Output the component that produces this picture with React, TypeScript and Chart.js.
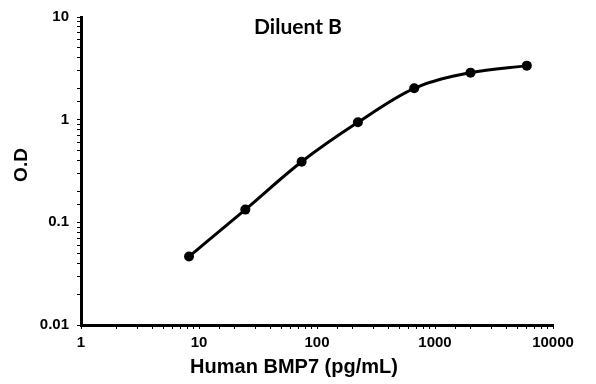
import React, { useEffect, useRef } from "react";
import { Chart, registerables } from "chart.js";

Chart.register(...registerables);

const concentrations = [8.23, 24.69, 74.07, 222.2, 666.7, 2000, 6000];
const odValues = [0.0464, 0.133, 0.389, 0.942, 2.02, 2.87, 3.36];
const chartTitle = "Diluent B";
const xTitle = "Human BMP7 (pg/mL)";
const yTitle = "O.D";
const xRange = [1, 10000];
const yRange = [0.01, 10];

const isPow10 = (v: number) => {
  const l = Math.log10(v);
  return Math.abs(l - Math.round(l)) < 1e-9;
};

const fmt = (v: number) => {
  const l = Math.round(Math.log10(v));
  return l < 0 ? v.toFixed(-l) : String(Math.round(v));
};

const titlesPlugin = {
  id: "customTitles",
  afterDraw(chart: any) {
    const ctx = chart.ctx;
    ctx.save();
    ctx.fillStyle = "#000";
    ctx.textAlign = "center";
    ctx.textBaseline = "alphabetic";
    ctx.font = "bold 21px Lato, 'Liberation Sans', sans-serif";
    ctx.fillText(chartTitle, 298, 34);
    ctx.font = "bold 20px 'Liberation Sans', Arial, sans-serif";
    ctx.fillText(xTitle, 294, 373);
    ctx.translate(27, 165);
    ctx.rotate(-Math.PI / 2);
    ctx.font = "bold 19px 'Liberation Sans', Arial, sans-serif";
    ctx.fillText(yTitle, 0, 0);
    ctx.restore();
  },
};

export default function App() {
  const ref = useRef<HTMLCanvasElement>(null);
  useEffect(() => {
    if (!ref.current) return;
    const tickFont = { family: "'Liberation Sans', Arial, sans-serif", size: 15, weight: "bold" as const };
    const chart = new Chart(ref.current, {
      type: "line",
      data: {
        datasets: [
          {
            data: concentrations.map((x, i) => ({ x, y: odValues[i] })),
            borderColor: "#000",
            backgroundColor: "#000",
            borderWidth: 3,
            pointRadius: 5,
            pointBorderWidth: 0,
            pointBackgroundColor: "#000",
            tension: 0.4,
            cubicInterpolationMode: "monotone",
            fill: false,
          },
        ],
      },
      options: {
        animation: false,
        responsive: false,
        layout: { padding: { left: 0, right: 43, top: 15, bottom: 0 } },
        plugins: { legend: { display: false }, tooltip: { enabled: false }, title: { display: false } },
        scales: {
          x: {
            type: "logarithmic",
            min: xRange[0],
            max: xRange[1],
            afterFit: (s: any) => {
              s.height = 59;
            },
            border: { display: true, color: "#000", width: 3 },
            grid: { drawOnChartArea: false, drawTicks: true, tickLength: 4, color: "#000", lineWidth: 1 },
            ticks: {
              autoSkip: false,
              maxRotation: 0,
              color: "#000",
              font: tickFont,
              padding: 5,
              callback: (v: any) => (isPow10(Number(v)) ? fmt(Number(v)) : ""),
            },
          },
          y: {
            type: "logarithmic",
            min: yRange[0],
            max: yRange[1],
            afterFit: (s: any) => {
              s.width = 81;
            },
            border: { display: true, color: "#000", width: 3 },
            grid: { drawOnChartArea: false, drawTicks: true, tickLength: 4, color: "#000", lineWidth: 1 },
            ticks: {
              autoSkip: false,
              color: "#000",
              font: tickFont,
              padding: 8,
              callback: (v: any) => (isPow10(Number(v)) ? fmt(Number(v)) : ""),
            },
          },
        },
      },
      plugins: [titlesPlugin],
    });
    return () => chart.destroy();
  }, []);
  return (
    <div style={{ position: "absolute", left: 0, top: 0, width: 596, height: 384, background: "#fff" }}>
      <canvas ref={ref} width={596} height={384} style={{ display: "block" }} />
    </div>
  );
}
